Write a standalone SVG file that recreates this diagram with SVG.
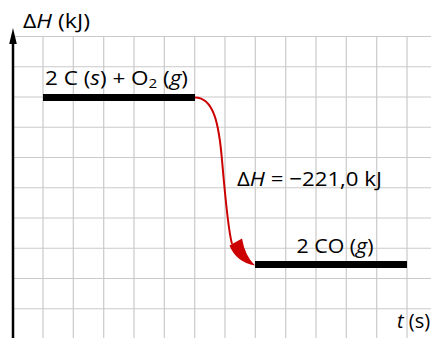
<svg xmlns="http://www.w3.org/2000/svg" width="431" height="338" viewBox="0 0 431 338">
<style>
.grid line{stroke:#cacaca;stroke-width:1.2}
.lbl{font-family:"Open Sans","Noto Sans","DejaVu Sans",sans-serif;font-size:20px;fill:#000}
.bar{fill:#000}
</style>
<rect width="431" height="338" fill="#fff"/>
<g id="grid" class="grid">
<line x1="13" y1="36.5" x2="431" y2="36.5"/>
<line x1="13" y1="66.75" x2="431" y2="66.75"/>
<line x1="13" y1="97" x2="431" y2="97"/>
<line x1="13" y1="127.25" x2="431" y2="127.25"/>
<line x1="13" y1="157.5" x2="431" y2="157.5"/>
<line x1="13" y1="187.75" x2="431" y2="187.75"/>
<line x1="13" y1="218" x2="431" y2="218"/>
<line x1="13" y1="248.25" x2="431" y2="248.25"/>
<line x1="13" y1="278.5" x2="431" y2="278.5"/>
<line x1="13" y1="308.75" x2="431" y2="308.75"/>
<line x1="43" y1="36.5" x2="43" y2="338"/>
<line x1="73.3" y1="36.5" x2="73.3" y2="338"/>
<line x1="103.7" y1="36.5" x2="103.7" y2="338"/>
<line x1="134" y1="36.5" x2="134" y2="338"/>
<line x1="164.3" y1="36.5" x2="164.3" y2="338"/>
<line x1="194.7" y1="36.5" x2="194.7" y2="338"/>
<line x1="225" y1="36.5" x2="225" y2="338"/>
<line x1="255.3" y1="36.5" x2="255.3" y2="338"/>
<line x1="285.7" y1="36.5" x2="285.7" y2="338"/>
<line x1="316" y1="36.5" x2="316" y2="338"/>
<line x1="346.3" y1="36.5" x2="346.3" y2="338"/>
<line x1="376.7" y1="36.5" x2="376.7" y2="338"/>
<line x1="407" y1="36.5" x2="407" y2="338"/>
</g>
<g id="axis-y">
<line x1="13" y1="40" x2="13" y2="338" stroke="#000" stroke-width="2.5"/>
<polygon points="13,28 16.8,44 9.2,44" fill="#000"/>
<text class="lbl" x="23" y="28" textLength="67" lengthAdjust="spacingAndGlyphs">Δ<tspan font-style="italic">H</tspan> (kJ)</text>
</g>
<g id="axis-x">
<text class="lbl" x="397" y="328"><tspan font-style="italic">t</tspan> (s)</text>
</g>
<g id="reactants">
<rect class="bar" x="43" y="94" width="152" height="7"/>
<text class="lbl" x="45" y="85" textLength="143" lengthAdjust="spacingAndGlyphs">2 C (<tspan font-style="italic">s</tspan>) + O<tspan style="font-size:13.5px" dy="3">2</tspan><tspan dy="-3"> (</tspan><tspan font-style="italic">g</tspan>)</text>
</g>
<g id="products">
<rect class="bar" x="255" y="261" width="152" height="7"/>
<text class="lbl" x="296.5" y="253" textLength="77" lengthAdjust="spacingAndGlyphs">2 CO (<tspan font-style="italic">g</tspan>)</text>
</g>
<g id="connectors">
<path d="M195,97.5 C214,97.5 219,125 222,160 S228,230 232,244" fill="none" stroke="#cc0000" stroke-width="2"/>
<path d="M229.5,245.5 Q236,262 255,265.5 Q245,256 242,238.5 Z" fill="#cc0000"/>
<text class="lbl" x="237" y="186" textLength="145" lengthAdjust="spacingAndGlyphs">Δ<tspan font-style="italic">H</tspan> = −221,0 kJ</text>
</g>
</svg>
